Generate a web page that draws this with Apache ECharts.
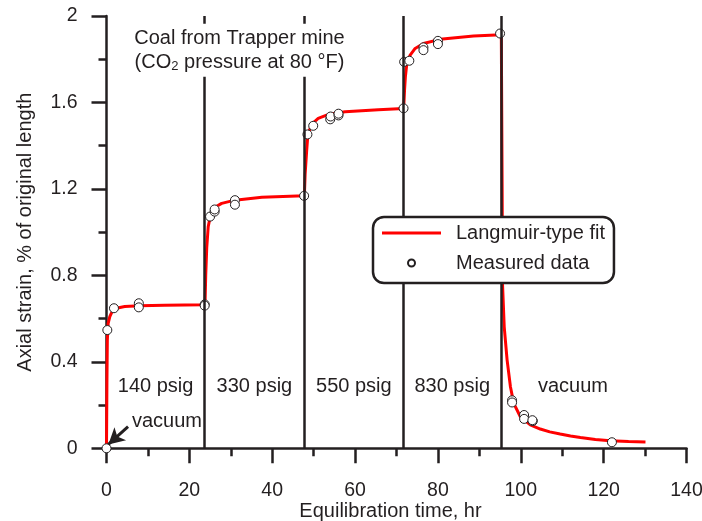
<!DOCTYPE html>
<html>
<head>
<meta charset="utf-8">
<script src="https://cdn.jsdelivr.net/npm/echarts@6/dist/echarts.min.js"></script>
<style>
  html, body { margin: 0; padding: 0; background: #fff; }
  #chart { width: 702px; height: 521px; }
</style>
</head>
<body>
<div id="chart"></div>
<script>
// Axis ticks
const xTicks = [0, 20, 40, 60, 80, 100, 120, 140];
const yTicks = [0, 0.4, 0.8, 1.2, 1.6, 2];

// Times (hr) at which the CO2 pressure was changed
const stepTimes = [23.7, 47.7, 71.7, 95.2];
const stageLabels = ['140 psig', '330 psig', '550 psig', '830 psig', 'vacuum'];
const stageEnd = 130;

// Langmuir-type fit curve
const fitTime = [
  0, 0.1, 0.2, 0.4, 0.8, 1.35, 2.4, 4.4, 8, 14, 23.7,
  23.8, 23.95, 24.2, 24.55, 25.2, 26.2, 27.8, 31, 37.5, 47.7,
  47.8, 47.95, 48.3, 48.6, 49.5, 51.1, 53.6, 57.6, 65.6, 71.7,
  71.8, 71.95, 72.15, 72.5, 73.3, 74.5, 76.5, 80.5, 88.6, 95.3,
  95.4, 95.5, 95.6, 96.0, 96.7, 97.5, 98.3, 99.9, 102.3, 104.7, 107, 109.5, 112, 114.4,
  118, 121.6, 126, 130.1
];
const fitStrain = [
  0, 0.3, 0.5, 0.578, 0.609, 0.632, 0.648, 0.656, 0.66, 0.662, 0.664,
  0.68, 0.8, 0.93, 1.025, 1.087, 1.115, 1.133, 1.148, 1.161, 1.168,
  1.19, 1.27, 1.372, 1.449, 1.499, 1.526, 1.545, 1.557, 1.566, 1.572,
  1.6, 1.66, 1.72, 1.781, 1.819, 1.85, 1.873, 1.892, 1.907, 1.913,
  1.913, 1.2, 0.755, 0.562, 0.408, 0.285, 0.208, 0.146, 0.108, 0.089, 0.076, 0.066, 0.057, 0.05,
  0.041, 0.035, 0.031, 0.029
];

// Measured strain
const dataTime = [
  0, 0.2, 1.8, 7.8, 7.8, 23.7, 23.7,
  25.0, 26.1, 26.1, 31, 31, 47.7,
  48.5, 49.9, 54.0, 54.1, 56.0, 56.0, 71.7,
  71.85, 73.1, 76.5, 76.5, 80.0, 80.0, 95.0,
  97.9, 97.9, 100.8, 100.8, 102.9, 102.8, 122.0
];
const dataStrain = [
  0, 0.547, 0.648, 0.671, 0.652, 0.666, 0.66,
  1.072, 1.095, 1.105, 1.148, 1.127, 1.168,
  1.452, 1.492, 1.522, 1.535, 1.54, 1.548, 1.573,
  1.788, 1.793, 1.855, 1.842, 1.885, 1.870, 1.919,
  0.222, 0.212, 0.154, 0.136, 0.126, 0.13, 0.028
];

const ink = '#231f20';
const font = 'Liberation Sans, Arial, Helvetica, sans-serif';

const fitData = fitTime.map((t, i) => [t, fitStrain[i]]);
const measured = dataTime.map((t, i) => [t, dataStrain[i]]);

// stage labels sit midway between pressure changes
const bounds = [0, ...stepTimes, stageEnd];
const stageNotes = stageLabels.map((txt, i) => ({
  value: [(bounds[i] + bounds[i + 1]) / 2, 0.288],
  label: { formatter: txt }
}));

const chart = echarts.init(document.getElementById('chart'), null, { renderer: 'canvas' });

const axisCommon = {
  axisLine: { show: true, onZero: false, lineStyle: { color: ink, width: 2.5 } },
  axisTick: { show: true, inside: false, length: 15, lineStyle: { color: ink, width: 2.5 } },
  minorTick: { show: true, splitNumber: 2, length: 8, lineStyle: { color: ink, width: 2.5 } },
  splitLine: { show: false },
  minorSplitLine: { show: false },
  axisLabel: { color: ink, fontFamily: font, fontSize: 19.5 },
  nameTextStyle: { color: ink, fontFamily: font, fontSize: 20 }
};

chart.setOption({
  animation: false,
  backgroundColor: '#fff',
  grid: { left: 106.5, right: 15.5, top: 16, bottom: 72.7, containLabel: false, outerBoundsMode: 'none' },
  xAxis: Object.assign({}, axisCommon, {
    type: 'value',
    min: xTicks[0],
    max: xTicks[xTicks.length - 1],
    interval: xTicks[1] - xTicks[0],
    name: 'Equilibration time, hr',
    nameLocation: 'middle',
    nameGap: 53,
    nameMoveOverlap: false,
    nameTextStyle: Object.assign({}, axisCommon.nameTextStyle, { padding: [0, 12, 0, 0] }),
    axisLabel: Object.assign({}, axisCommon.axisLabel, { margin: 32 })
  }),
  yAxis: Object.assign({}, axisCommon, {
    type: 'value',
    min: yTicks[0],
    max: yTicks[yTicks.length - 1],
    interval: yTicks[1] - yTicks[0],
    name: 'Axial strain, % of original length',
    nameLocation: 'middle',
    nameGap: 71,
    nameMoveOverlap: false,
    axisLabel: Object.assign({}, axisCommon.axisLabel, { margin: 29 })
  }),
  legend: {
    left: 373,
    top: 217,
    orient: 'vertical',
    z: 20,
    backgroundColor: '#fff',
    borderColor: ink,
    borderWidth: 2.5,
    borderRadius: 11,
    padding: [6, 9, 10, 9],
    itemGap: 10,
    itemWidth: 59,
    itemHeight: 7,
    textStyle: { color: ink, fontFamily: font, fontSize: 20, padding: [0, 0, 0, 10] },
    data: [
      { name: 'Langmuir-type fit', icon: 'path://M0,0 L59,0 L59,3 L0,3 Z' },
      { name: 'Measured data', icon: 'circle' }
    ]
  },
  series: [
    {
      // pressure-change markers
      name: 'steps',
      type: 'line',
      data: [],
      z: 1,
      silent: true,
      markLine: {
        silent: true,
        symbol: ['none', 'none'],
        label: { show: false },
        lineStyle: { color: ink, width: 2.5, type: 'solid' },
        data: stepTimes.map(t => ({ xAxis: t }))
      }
    },
    {
      name: 'Langmuir-type fit',
      type: 'line',
      data: fitData,
      symbol: 'none',
      showSymbol: false,
      z: 3,
      lineStyle: { color: '#ff0000', width: 3 },
      itemStyle: { color: '#ff0000' }
    },
    {
      name: 'Measured data',
      type: 'scatter',
      data: measured,
      symbol: 'circle',
      symbolSize: 9,
      z: 4,
      itemStyle: { color: '#fff', borderColor: ink, borderWidth: 1, opacity: 1 }
    },
    {
      // annotations
      name: 'notes',
      type: 'scatter',
      symbolSize: 0,
      silent: true,
      z: 6,
      itemStyle: { opacity: 1 },
      label: {
        show: true,
        position: 'inside',
        color: ink,
        fontFamily: font,
        fontSize: 20
      },
      data: stageNotes.concat([
        { value: [14.6, 0.126], label: { formatter: 'vacuum' } },
        {
          value: [32.1, 1.841],
          label: {
            backgroundColor: '#fff',
            padding: [3, 2, 3, 2],
            lineHeight: 23.5,
            formatter: '{t|Coal from Trapper mine}\n{t|(CO}{s|2}{t| pressure at 80 °F)}',
            rich: {
              t: { color: ink, fontFamily: font, fontSize: 20, lineHeight: 23.5 },
              s: { color: ink, fontFamily: font, fontSize: 13, lineHeight: 23.5, padding: [9, 0, 0, 0] }
            }
          }
        }
      ]),
      markLine: {
        silent: true,
        symbol: ['none', 'arrow'],
        symbolSize: [13, 16],
        label: { show: false },
        lineStyle: { color: ink, width: 3, type: 'solid', opacity: 1 },
        data: [[{ coord: [5.2, 0.1] }, { coord: [0.45, 0.018] }]]
      }
    }
  ]
});
</script>
</body>
</html>
